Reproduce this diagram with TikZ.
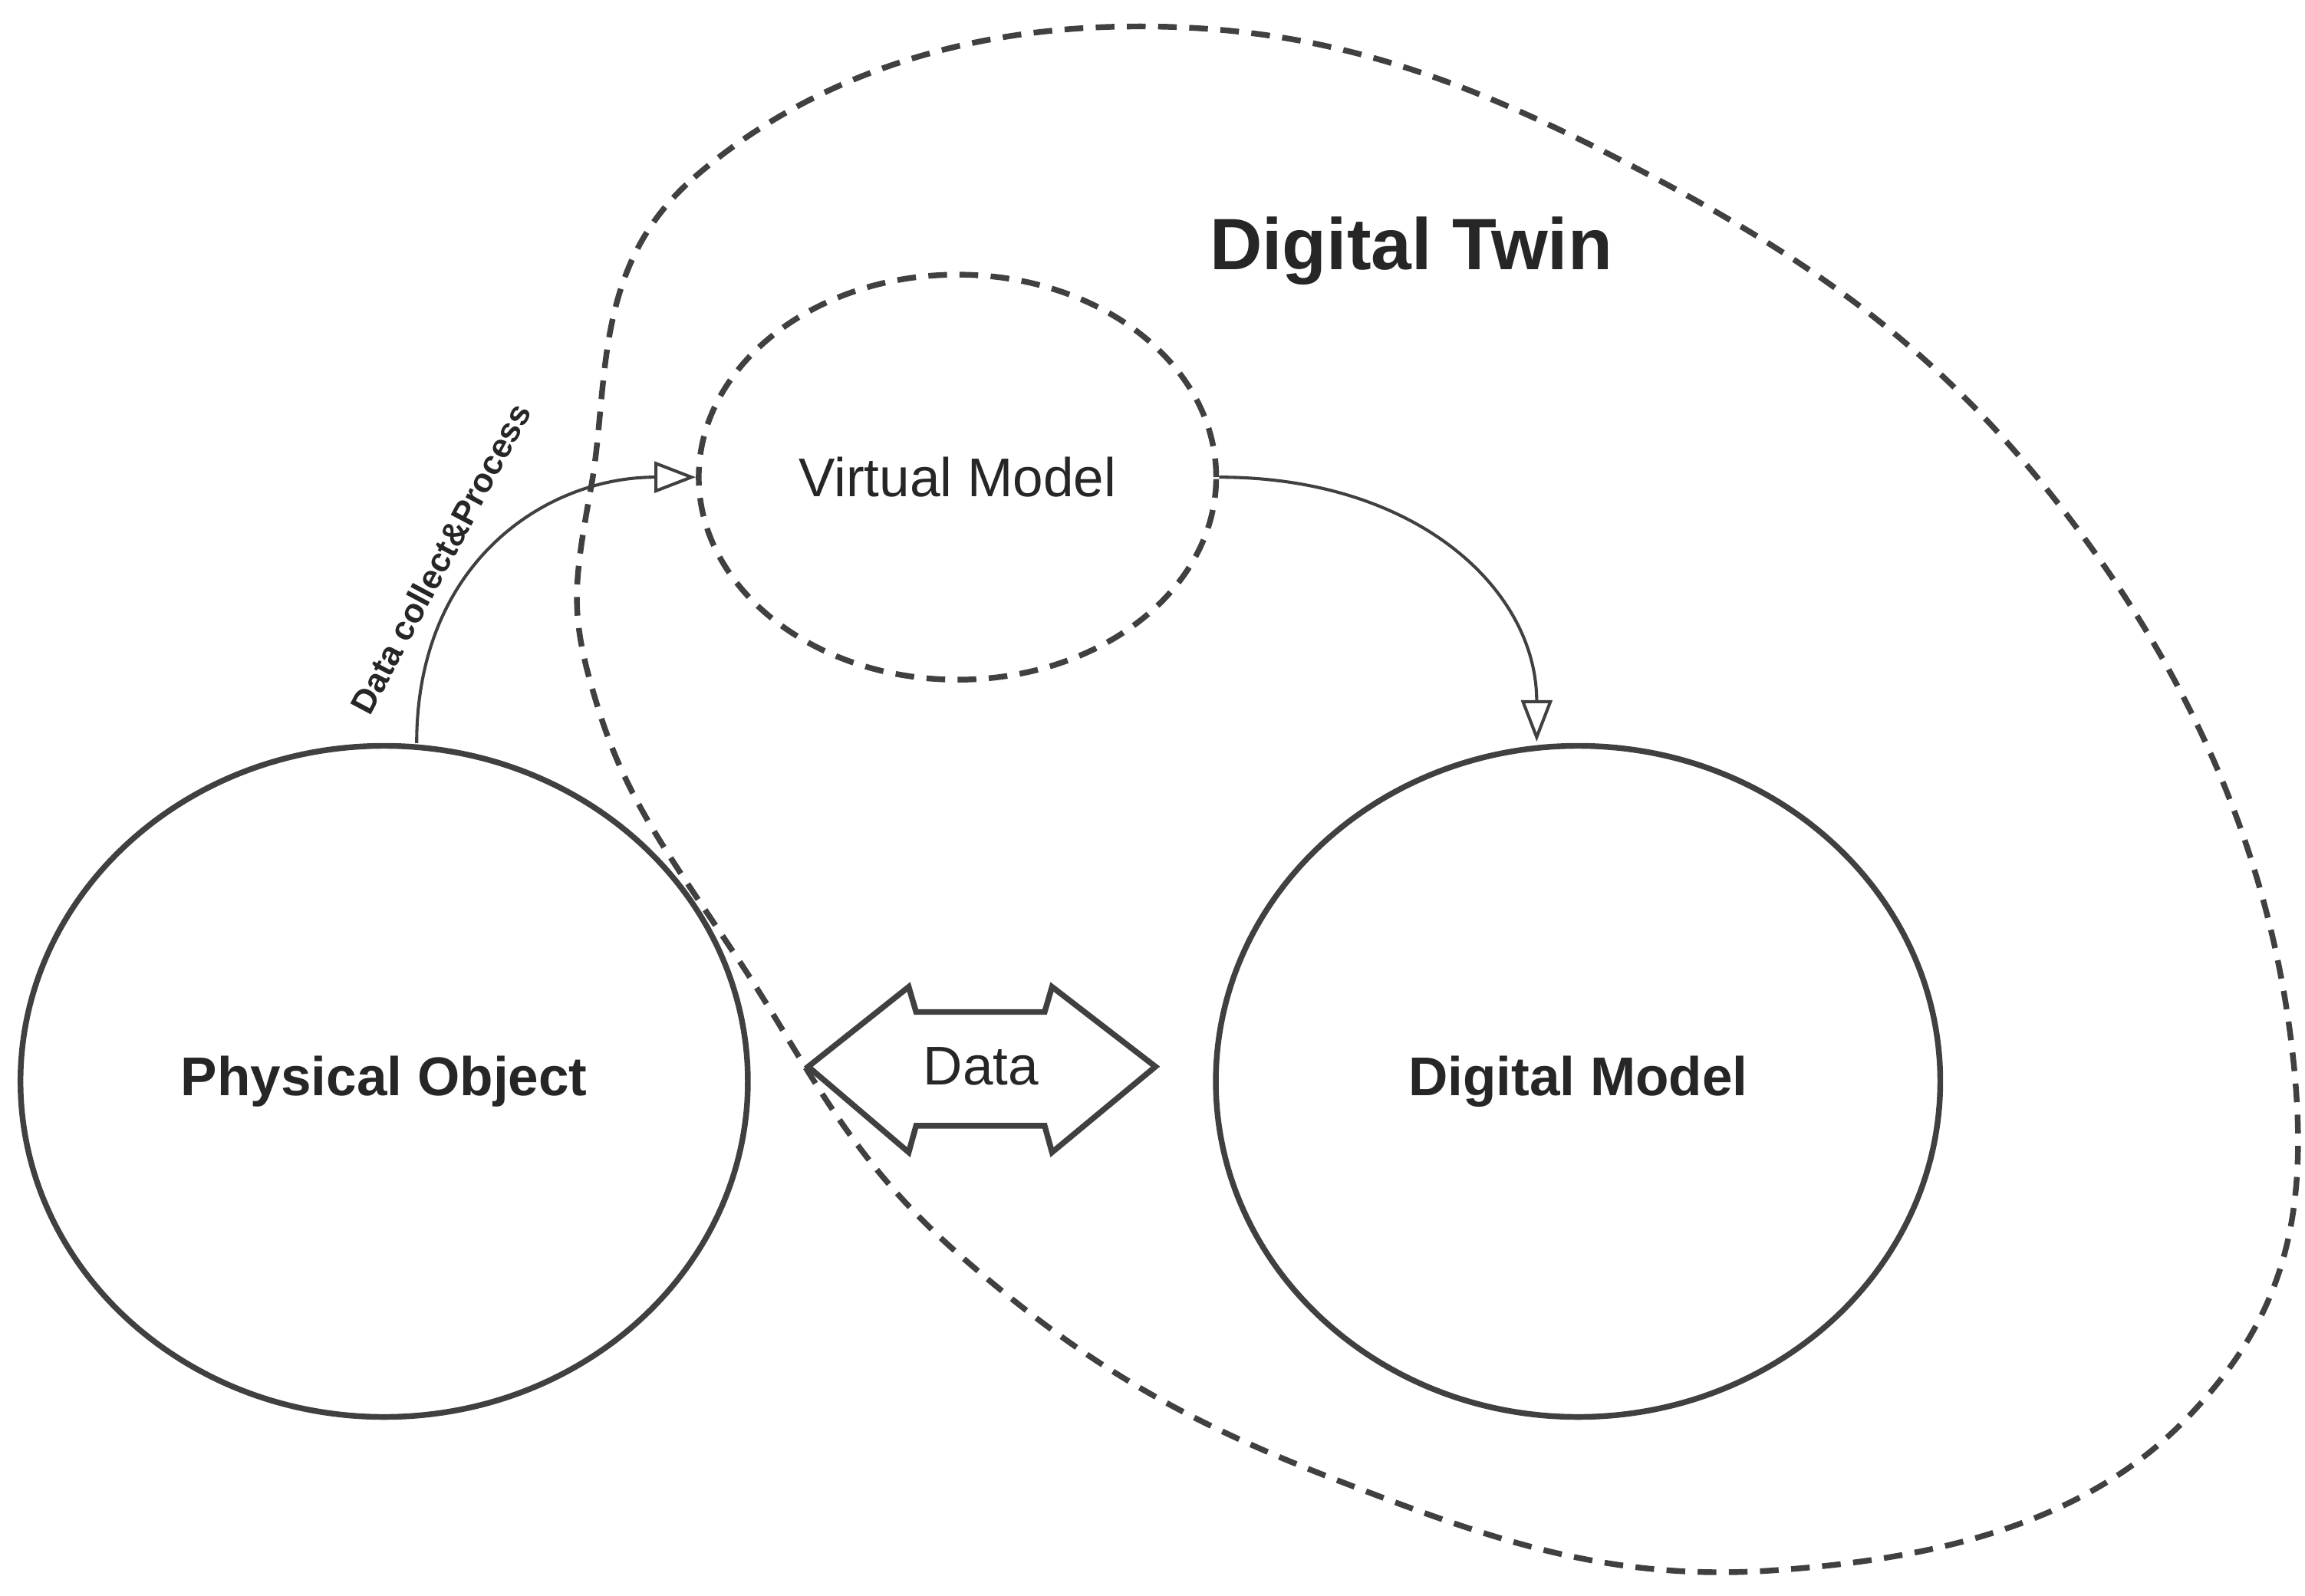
\documentclass[tikz,border=0pt]{standalone}
\usepackage{fontspec}
\setmainfont{Liberation Sans}
\usetikzlibrary{arrows.meta,shapes.geometric}
\begin{document}
\begin{tikzpicture}[x=0.01cm,y=-0.01cm,
  solidc/.style={draw=black!75,line width=1.1pt},
  dashc/.style={draw=black!75,line width=1.1pt,dash pattern=on 3.6pt off 2.4pt},
  conn/.style={draw=black!75,line width=0.6pt,-{Triangle[open,length=8pt,width=6pt]}},
  lbl/.style={font=\fontsize{10.5}{12}\selectfont\bfseries,text=black!85}]
\useasboundingbox (0,0) rectangle (1560,1080);
\draw[dashc] plot[smooth cycle,tension=0.7] coordinates {(400,330) (470,120) (760,18) (1100,110) (1400,350) (1550,700) (1480,960) (1200,1063) (900,1000) (650,850) (500,650) (405,480)};
\node[lbl,font=\fontsize{14}{16}\selectfont\bfseries] (twin) at (955,170) {Digital Twin};
\node[ellipse,dashc,minimum width=3.5cm,minimum height=2.74cm,inner sep=0] (vm) at (648,323) {};
\node[font=\fontsize{10.5}{12}\selectfont,text=black!85] at (vm) {Virtual Model};
\node[ellipse,solidc,minimum width=4.92cm,minimum height=4.54cm,inner sep=0] (po) at (260,732) {};
\node[lbl] at (po) {Physical Object};
\node[ellipse,solidc,minimum width=4.9cm,minimum height=4.54cm,inner sep=0] (dm) at (1068,732) {};
\node[lbl] at (dm) {Digital Model};
\draw[conn] (po.north) ++(22,0) coordinate (pa) .. controls (282,380) and (370,323) .. (vm.west);
\node[font=\fontsize{6.5}{8}\selectfont\bfseries,text=black!85,rotate=62] (dcp) at (298,378) {Data collect\&Process};
\draw[conn] (vm.east) .. controls (960,323) and (1040,400) .. (1040,502);
\draw[solidc] (547,722) -- (615,668) -- (620,685) -- (707,685) -- (712,668) -- (782,722) -- (712,780) -- (707,762) -- (620,762) -- (615,780) -- cycle;
\node[font=\fontsize{10.5}{12}\selectfont,text=black!85] (data) at (664,722) {Data};
\end{tikzpicture}
\end{document}
